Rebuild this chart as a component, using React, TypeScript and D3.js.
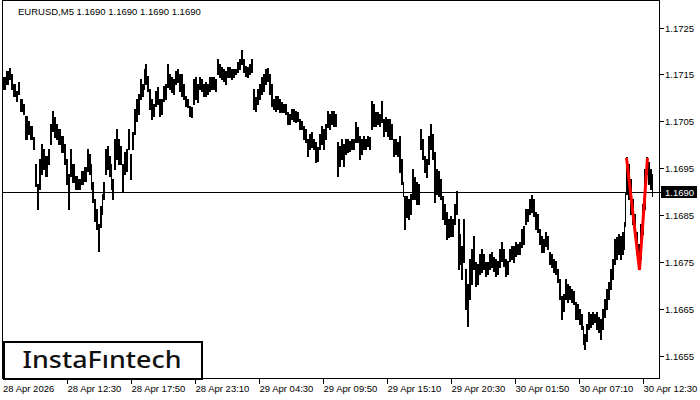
import React from "react";
import * as d3 from "d3";

const symbolTitle = "EURUSD,M5  1.1690 1.1690 1.1690 1.1690";
const lastPrice = 1.169;

// bar index (5-minute bars from the first visible bar)
const barIdx = [
  0,3,6,8,10,13,15,17,20,22,
  25,27,30,32,34,36,38,40,42,45,
  47,49,51,53,55,58,61,63,65,67,
  69,72,75,78,81,84,86,88,89,91,
  93,95,97,99,100,102,104,106,108,109,
  111,113,115,117,119,121,123,125,127,129,
  131,133,135,137,139,141,142,144,146,148,
  150,152,154,156,158,160,162,164,166,168,
  170,172,174,176,178,180,182,184,186,188,
  190,192,194,196,198,200,202,204,206,208,
  210,212,214,216,218,220,222,224,226,228,
  230,232,234,236,238,240,242,244,246,248,
  250,252,254,256,258,260,262,264,266,268,
  270,272,274,276,278,280,282,284,286,288,
  290,292,294,296,298,300,302,304,306,308,
  310,312,314,316,318,320,322,324,326,328,
  330,332,334,336,338,340,342,344,346,348,
  350,352,354,356,358,360,362,364,366,368,
  370,372,374,376,378,380,382,384,386,388,
  390,392,394,396,398,400,401,403,405,407,
  409,411,413,415,417,419,421,423,425,427,
  429,431,433,435,437,439,441,443,445,447,
  449,451,453,455,457,458,460,462,464,466,
  468,470,472,474,476,478,480,482,484,486,
  488,490,492,494,496,498,500,502,504,506,
  508,510,512,514,516,518,520,522,524,526,
  528,530,532,534,536,538,540,542,544,546,
  548,550,552,554,556,558,560,562,564,566,
  568,570,572,574,576,578,580,581,583,585,
  587,589,591,593,595,597,599,601,603,605,
  607,609,611,613,615,617,619,621,622,623,
  625,627,629,631,633,635,637,639,641,643,
  645,647,649,
];
const lastBarEnd = 650;

const highs = [
  1.17143,1.17156,1.17162,1.17149,1.17128,1.17113,1.17132,1.17096,1.17085,1.17060,
  1.17049,1.17038,1.17015,1.16958,1.16915,1.16968,1.17000,1.16989,1.16975,1.16989,
  1.17043,1.17071,1.17058,1.17043,1.17032,1.17017,1.17000,1.16968,1.16936,1.16989,
  1.16958,1.16932,1.16926,1.16943,1.16951,1.16989,1.16979,1.16958,1.16919,1.16883,
  1.16862,1.16830,1.16868,1.16894,1.16919,1.16989,1.16996,1.16975,1.16958,1.16926,
  1.17011,1.17032,1.17011,1.16996,1.16958,1.16983,1.16989,1.17032,1.16979,1.17026,
  1.17075,1.17096,1.17107,1.17139,1.17128,1.17160,1.17171,1.17145,1.17117,1.17096,
  1.17085,1.17113,1.17122,1.17096,1.17096,1.17124,1.17128,1.17171,1.17149,1.17143,
  1.17139,1.17156,1.17160,1.17149,1.17149,1.17128,1.17102,1.17096,1.17081,1.17079,
  1.17139,1.17143,1.17128,1.17143,1.17139,1.17128,1.17132,1.17128,1.17143,1.17143,
  1.17143,1.17139,1.17181,1.17171,1.17164,1.17160,1.17156,1.17164,1.17164,1.17160,
  1.17160,1.17160,1.17175,1.17181,1.17202,1.17181,1.17166,1.17164,1.17171,1.17181,
  1.17117,1.17100,1.17117,1.17128,1.17143,1.17149,1.17160,1.17162,1.17149,1.17128,
  1.17096,1.17102,1.17102,1.17096,1.17090,1.17085,1.17085,1.17068,1.17064,1.17075,
  1.17075,1.17071,1.17068,1.17053,1.17049,1.17038,1.17032,1.17011,1.17021,1.17026,
  1.17011,1.17004,1.16994,1.17021,1.17038,1.17032,1.17043,1.17071,1.17064,1.17071,
  1.17071,1.17064,1.17004,1.16996,1.17011,1.17000,1.17011,1.17011,1.17007,1.17011,
  1.17011,1.17047,1.17036,1.17017,1.17011,1.17017,1.17011,1.17017,1.17015,1.17092,
  1.17085,1.17068,1.17068,1.17064,1.17092,1.17053,1.17058,1.17053,1.17053,1.17043,
  1.17011,1.17011,1.17004,1.17017,1.16968,1.16919,1.16889,1.16889,1.16883,1.16894,
  1.16947,1.16930,1.16919,1.16915,1.17032,1.17011,1.16975,1.16968,1.17017,1.17043,
  1.17021,1.16983,1.16947,1.16943,1.16926,1.16889,1.16872,1.16855,1.16840,1.16847,
  1.16840,1.16872,1.16900,1.16840,1.16808,1.16783,1.16840,1.16734,1.16702,1.16755,
  1.16777,1.16804,1.16749,1.16745,1.16766,1.16777,1.16766,1.16749,1.16749,1.16766,
  1.16770,1.16759,1.16755,1.16751,1.16777,1.16791,1.16777,1.16755,1.16751,1.16777,
  1.16783,1.16783,1.16791,1.16787,1.16791,1.16819,1.16825,1.16862,1.16862,1.16883,
  1.16891,1.16883,1.16855,1.16851,1.16819,1.16804,1.16798,1.16813,1.16804,1.16770,
  1.16766,1.16755,1.16751,1.16734,1.16713,1.16676,1.16681,1.16713,1.16702,1.16698,
  1.16691,1.16687,1.16663,1.16659,1.16649,1.16638,1.16612,1.16595,1.16617,1.16642,
  1.16638,1.16642,1.16638,1.16642,1.16632,1.16627,1.16649,1.16670,1.16691,1.16706,
  1.16734,1.16755,1.16798,1.16802,1.16808,1.16804,1.16813,1.16834,1.16898,1.16972,
  1.16958,1.16926,1.16883,1.16851,1.16813,1.16787,1.16830,1.16872,1.16947,1.16972,
  1.16962,1.16947,1.16936,
];

const lows = [
  1.17117,1.17128,1.17139,1.17117,1.17102,1.17092,1.17107,1.17071,1.17064,1.17011,
  1.17021,1.17011,1.16989,1.16911,1.16862,1.16904,1.16936,1.16947,1.16932,1.16958,
  1.17000,1.17028,1.17015,1.17011,1.17000,1.16983,1.16958,1.16915,1.16862,1.16932,
  1.16919,1.16904,1.16904,1.16915,1.16921,1.16943,1.16936,1.16904,1.16877,1.16836,
  1.16819,1.16772,1.16823,1.16851,1.16883,1.16936,1.16947,1.16932,1.16904,1.16883,
  1.16947,1.16968,1.16958,1.16958,1.16900,1.16936,1.16943,1.16989,1.16926,1.16989,
  1.17021,1.17049,1.17064,1.17096,1.17102,1.17117,1.17128,1.17113,1.17075,1.17053,
  1.17060,1.17081,1.17085,1.17060,1.17064,1.17092,1.17096,1.17122,1.17117,1.17111,
  1.17107,1.17128,1.17132,1.17113,1.17102,1.17096,1.17081,1.17079,1.17060,1.17058,
  1.17085,1.17096,1.17090,1.17117,1.17113,1.17102,1.17102,1.17107,1.17113,1.17117,
  1.17117,1.17113,1.17149,1.17143,1.17139,1.17134,1.17128,1.17143,1.17143,1.17139,
  1.17143,1.17149,1.17154,1.17160,1.17171,1.17154,1.17145,1.17143,1.17149,1.17154,
  1.17075,1.17071,1.17085,1.17096,1.17107,1.17113,1.17128,1.17134,1.17107,1.17081,
  1.17075,1.17071,1.17075,1.17068,1.17068,1.17068,1.17064,1.17043,1.17043,1.17053,
  1.17049,1.17047,1.17049,1.17032,1.17032,1.17011,1.17004,1.16975,1.16989,1.16994,
  1.16989,1.16962,1.16964,1.16989,1.17000,1.16989,1.17011,1.17036,1.17032,1.17043,
  1.17038,1.17038,1.16932,1.16953,1.16968,1.16953,1.16979,1.16983,1.16985,1.16989,
  1.16989,1.17004,1.17004,1.16968,1.16979,1.16989,1.16989,1.16996,1.16989,1.17032,
  1.17038,1.17038,1.17043,1.17038,1.17047,1.17017,1.17028,1.17017,1.17011,1.17011,
  1.16975,1.16979,1.16975,1.16941,1.16915,1.16889,1.16819,1.16845,1.16840,1.16851,
  1.16883,1.16883,1.16872,1.16872,1.16989,1.16968,1.16941,1.16930,1.16958,1.16989,
  1.16968,1.16877,1.16894,1.16889,1.16883,1.16840,1.16830,1.16798,1.16802,1.16804,
  1.16804,1.16830,1.16851,1.16734,1.16745,1.16713,1.16749,1.16649,1.16612,1.16670,
  1.16702,1.16734,1.16698,1.16702,1.16723,1.16727,1.16734,1.16719,1.16723,1.16734,
  1.16738,1.16730,1.16719,1.16723,1.16738,1.16751,1.16740,1.16719,1.16723,1.16751,
  1.16755,1.16749,1.16761,1.16766,1.16766,1.16781,1.16787,1.16830,1.16836,1.16851,
  1.16855,1.16847,1.16819,1.16813,1.16787,1.16770,1.16770,1.16783,1.16777,1.16745,
  1.16738,1.16727,1.16723,1.16706,1.16670,1.16627,1.16644,1.16670,1.16663,1.16670,
  1.16663,1.16659,1.16627,1.16627,1.16617,1.16606,1.16574,1.16564,1.16581,1.16606,
  1.16610,1.16617,1.16621,1.16606,1.16600,1.16585,1.16606,1.16632,1.16649,1.16670,
  1.16691,1.16713,1.16745,1.16755,1.16766,1.16755,1.16766,1.16777,1.16825,1.16894,
  1.16883,1.16851,1.16830,1.16804,1.16766,1.16734,1.16755,1.16808,1.16862,1.16936,
  1.16915,1.16904,1.16889,
];

// red pattern line
const patternBars = [623, 636, 644];
const patternPrices = [1.16972, 1.16733, 1.16972];

const priceTicks = [1.1725, 1.1715, 1.1705, 1.1695, 1.1685, 1.1675, 1.1665, 1.1655];
const timeTickBars = [0, 64, 128, 192, 256, 320, 384, 448, 512, 576, 640];
const timeTickLabels = [
  "28 Apr 2026", "28 Apr 12:30", "28 Apr 17:50", "28 Apr 23:10",
  "29 Apr 04:30", "29 Apr 09:50", "29 Apr 15:10", "29 Apr 20:30",
  "30 Apr 01:50", "30 Apr 07:10", "30 Apr 12:30",
];

const W = 700;
const H = 400;
const FRAME = { left: 2.5, right: 659.5, top: 0.5, bottom: 378.5 };
const FONT = "'Liberation Sans', Arial, sans-serif";

export default function App() {
  const x = d3.scaleLinear().domain([0, lastBarEnd]).range([3, 3 + lastBarEnd]);
  const y = d3.scaleLinear().domain([1.1655, 1.1725]).range([355.8, 27.5]);

  const n = Math.min(barIdx.length, highs.length, lows.length);
  const bars = [];
  for (let i = 0; i < n; i++) {
    const x0 = x(barIdx[i]);
    const x1 = x(i + 1 < n ? barIdx[i + 1] : lastBarEnd);
    const yTop = Math.floor(y(highs[i]));
    const yBot = Math.ceil(y(lows[i]));
    bars.push(
      <rect key={i} x={x0} y={yTop} width={Math.max(1, x1 - x0)} height={Math.max(1, yBot - yTop)} fill="#000" />
    );
  }

  const pattern = d3
    .line<number>()
    .x((_, i) => x(patternBars[i]) + 0.5)
    .y((d) => y(d))(patternPrices);

  const yLast = Math.round(y(lastPrice)) + 0.5;

  return (
    <svg
      width={W}
      height={H}
      style={{ position: "absolute", left: 0, top: 0, display: "block", background: "#fff" }}
      shapeRendering="crispEdges"
    >
      <rect x={0} y={0} width={W} height={H} fill="#fff" />
      {/* bars */}
      <g>{bars}</g>
      {/* current price line */}
      <line x1={FRAME.left} x2={FRAME.right + 4} y1={yLast} y2={yLast} stroke="#000" strokeWidth={1} />
      {/* pattern */}
      <path d={pattern ?? ""} fill="none" stroke="#ff0000" strokeWidth={3} strokeLinejoin="miter" shapeRendering="geometricPrecision" />
      {/* frame */}
      <rect
        x={FRAME.left}
        y={FRAME.top}
        width={FRAME.right - FRAME.left}
        height={FRAME.bottom - FRAME.top}
        fill="none"
        stroke="#000"
        strokeWidth={1}
      />
      {/* header */}
      <text x={18} y={15} fontFamily={FONT} fontSize={9.5} fill="#000">
        {symbolTitle}
      </text>
      {/* price axis */}
      {priceTicks.map((p) => {
        const yy = Math.round(y(p)) + 0.5;
        return (
          <g key={p}>
            <line x1={FRAME.right} x2={FRAME.right + 4} y1={yy} y2={yy} stroke="#000" />
            <text x={665} y={yy + 3.5} fontFamily={FONT} fontSize={9.5} fill="#000">
              {p.toFixed(4)}
            </text>
          </g>
        );
      })}
      {/* last price box */}
      <rect x={661} y={yLast - 6.5} width={36} height={12} fill="#000" />
      <text x={665} y={yLast + 3.5} fontFamily={FONT} fontSize={9.5} fill="#fff">
        {lastPrice.toFixed(4)}
      </text>
      {/* time axis */}
      {timeTickBars.map((b, i) => {
        const xx = Math.round(x(b)) + 0.5;
        return (
          <g key={b}>
            {i > 0 && <line x1={xx} x2={xx} y1={FRAME.bottom} y2={FRAME.bottom + 5} stroke="#000" />}
            <text x={i === 0 ? 3 : xx} y={392} fontFamily={FONT} fontSize={9.5} fill="#000">
              {timeTickLabels[i]}
            </text>
          </g>
        );
      })}
      {/* logo */}
      <rect x={3.5} y={341.5} width={198} height={37} fill="#fff" stroke="#000" strokeWidth={2} />
      <text
        x={22.5}
        y={367.5}
        fontFamily="'Noto Sans', 'Open Sans', sans-serif"
        fontWeight={500}
        fontSize={24}
        textLength={159}
        lengthAdjust="spacingAndGlyphs"
        fill="#111"
        shapeRendering="geometricPrecision"
      >
        InstaFıntech
      </text>
    </svg>
  );
}
